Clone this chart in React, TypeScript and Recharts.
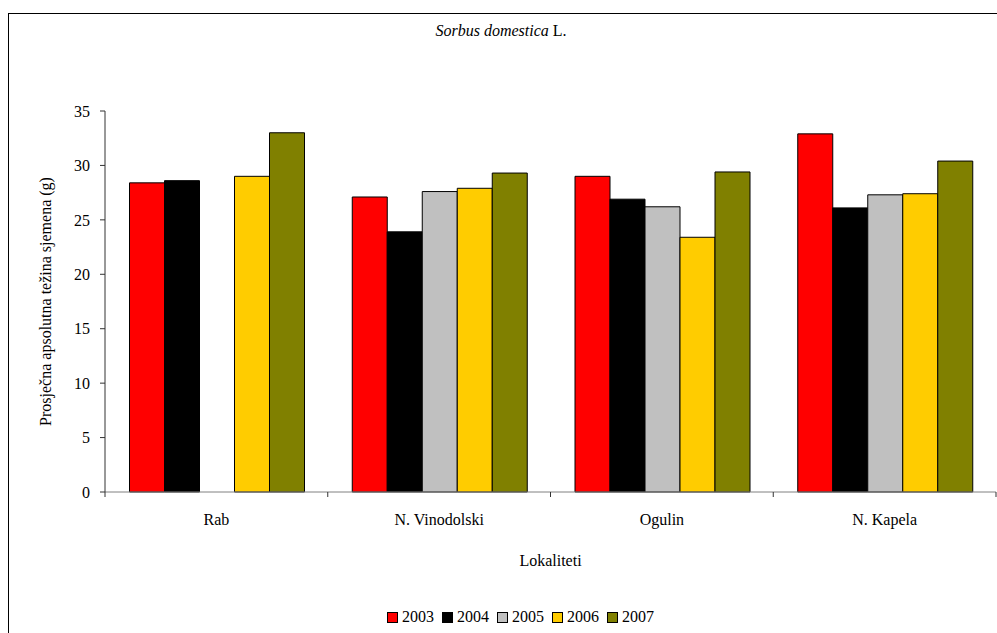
import { Bar, BarChart, Label, Legend, XAxis, YAxis } from 'recharts'

const locations = ['Rab', 'N. Vinodolski', 'Ogulin', 'N. Kapela']
const years = ['2003', '2004', '2005', '2006', '2007']
const colors = ['#ff0000', '#000000', '#c0c0c0', '#ffcc00', '#808000']

const v2003 = [28.4, 27.1, 29.0, 32.9]
const v2004 = [28.6, 23.9, 26.9, 26.1]
const v2005 = [null, 27.6, 26.2, 27.3]
const v2006 = [29.0, 27.9, 23.4, 27.4]
const v2007 = [33.0, 29.3, 29.4, 30.4]

const yTicks = [0, 5, 10, 15, 20, 25, 30, 35]

const data = locations.map((name, i) => ({
  name,
  '2003': v2003[i],
  '2004': v2004[i],
  '2005': v2005[i],
  '2006': v2006[i],
  '2007': v2007[i],
}))

const font = '"Liberation Serif", "DejaVu Serif", serif'
const LABEL_GAP = 22

// category label plus the small tick marks that sit between the groups
function CategoryTick(props: any) {
  const { x, y, payload, index, visibleTicksCount } = props
  const half = payload.offset || 0
  const axisY = y - LABEL_GAP
  return (
    <g>
      <line x1={x - half} x2={x - half} y1={axisY} y2={axisY + 5} stroke='#333' />
      {index === visibleTicksCount - 1 && (
        <line x1={x + half} x2={x + half} y1={axisY} y2={axisY + 5} stroke='#333' />
      )}
      <text x={x} y={y} dy='0.71em' textAnchor='middle' fill='#000' fontSize={16} fontFamily={font}>
        {payload.value}
      </text>
    </g>
  )
}

function renderLegend() {
  return (
    <div style={{ display: 'flex', justifyContent: 'center', gap: 8, fontFamily: font, fontSize: 16, color: '#000', paddingTop: 6 }}>
      {years.map((y, i) => (
        <div key={y} style={{ display: 'flex', alignItems: 'center', gap: 4 }}>
          <span style={{ width: 9, height: 9, background: colors[i], border: '1px solid #000', display: 'inline-block' }} />
          <span>{y}</span>
        </div>
      ))}
    </div>
  )
}

export default function App() {
  return (
    <div style={{ position: 'absolute', left: 0, top: 0, width: 997, height: 633, background: '#fff', fontFamily: font }}>
      {/* outer frame, right and bottom edges fall outside the picture */}
      <div style={{ position: 'absolute', left: 8, top: 13, width: 1000, height: 640, borderLeft: '1.5px solid #000', borderTop: '1.5px solid #000' }} />
      <div style={{ position: 'absolute', left: 0, top: 22, width: 1002, textAlign: 'center', fontSize: 16, color: '#000' }}>
        <i>Sorbus domestica</i> L.
      </div>
      <BarChart
        width={997}
        height={633}
        data={data}
        margin={{ top: 111, right: 1, left: 45, bottom: 3 }}
        barCategoryGap='11%'
        barGap={0}
        style={{ position: 'absolute', left: 0, top: 0 }}
      >
        <XAxis
          dataKey='name'
          xAxisId='cat'
          height={110}
          interval={0}
          tickLine={false}
          tickSize={0}
          tickMargin={LABEL_GAP}
          axisLine={{ stroke: '#808080' }}
          tick={<CategoryTick />}
        >
          <Label value='Lokaliteti' position='insideBottom' offset={36} style={{ fill: '#000', fontSize: 16, fontFamily: font }} />
        </XAxis>
        <YAxis
          width={60}
          domain={[0, 35]}
          ticks={yTicks}
          tickSize={5}
          tickMargin={10}
          axisLine={{ stroke: '#333' }}
          tickLine={{ stroke: '#333' }}
          tick={{ fill: '#000', fontSize: 16, fontFamily: font }}
        >
          <Label
            value='Prosječna apsolutna težina sjemena (g)'
            angle={-90}
            position='insideLeft'
            offset={0}
            style={{ textAnchor: 'middle', fill: '#000', fontSize: 16, fontFamily: font }}
          />
        </YAxis>
        <Legend verticalAlign='bottom' height={28} content={renderLegend} />
        {years.map((y, i) => (
          <Bar
            key={y}
            xAxisId='cat'
            dataKey={y}
            fill={colors[i]}
            stroke='#000'
            strokeWidth={1}
            isAnimationActive={false}
          />
        ))}
      </BarChart>
    </div>
  )
}
